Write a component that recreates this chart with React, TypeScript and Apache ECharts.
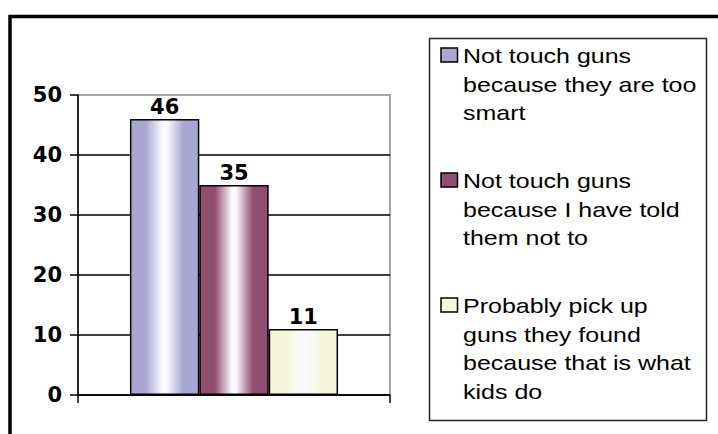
import React, { useEffect, useRef } from "react";
import * as echarts from "echarts";

const categories = [""];
const seriesNames = [
  "Not touch guns\nbecause they are too\nsmart",
  "Not touch guns\nbecause I have told\nthem not to",
  "Probably pick up\nguns they found\nbecause that is what\nkids do",
];
const seriesValues = [46, 35, 11];
const seriesColors = ["#A7A7D1", "#914E70", "#F6F6DA"];
const yTicks = { min: 0, max: 50, interval: 10 };

function barGradient(base: string) {
  return new echarts.graphic.LinearGradient(0, 0, 1, 0, [
    { offset: 0, color: base },
    { offset: 0.22, color: base },
    { offset: 0.47, color: "#FBFBFF" },
    { offset: 0.53, color: "#FBFBFF" },
    { offset: 0.78, color: base },
    { offset: 1, color: base },
  ]);
}

export default function App() {
  const ref = useRef<HTMLDivElement>(null);

  useEffect(() => {
    if (!ref.current) return;
    const chart = echarts.init(ref.current, null, { renderer: "svg" });

    const legendTop0 = 41.75;
    const legendStep = 125;
    const legendGraphics: any[] = [];
    seriesNames.forEach((name, i) => {
      legendGraphics.push({
        type: "rect",
        shape: { x: 441, y: 48 + i * legendStep, width: 16.5, height: 14 },
        style: { fill: seriesColors[i], stroke: "#000", lineWidth: 1.5 },
        z: 10,
      });
      legendGraphics.push({
        type: "text",
        x: 463,
        y: legendTop0 + i * legendStep,
        scaleX: 1.19,
        z: 10,
        style: {
          text: name,
          font: "21px 'Liberation Sans', Arial, sans-serif",
          lineHeight: 28.5,
          fill: "#000",
          verticalAlign: "top",
          align: "left",
        },
      });
    });

    const option: any = {
      animation: false,
      backgroundColor: "#fff",
      grid: {
        left: 78,
        right: 328,
        top: 95,
        bottom: 39,
        show: true,
        borderColor: "#A6A6A6",
        borderWidth: 2,
        backgroundColor: "transparent",
      },
      xAxis: {
        type: "category",
        data: categories,
        axisLine: { show: true, lineStyle: { color: "#000", width: 1.5 } },
        axisTick: { show: true, length: 8, lineStyle: { color: "#000", width: 1.5 } },
        axisLabel: { show: false },
        splitLine: { show: false },
      },
      yAxis: {
        type: "value",
        min: yTicks.min,
        max: yTicks.max,
        interval: yTicks.interval,
        axisLine: { show: true, lineStyle: { color: "#000", width: 1.5 } },
        axisTick: { show: true, length: 8, lineStyle: { color: "#000", width: 1.5 } },
        axisLabel: {
          margin: 16,
          color: "#000",
          fontFamily: "'DejaVu Sans', sans-serif",
          fontWeight: "bold",
          fontSize: 21,
        },
        splitLine: {
          show: true,
          showMaxLine: false,
          lineStyle: { color: "#000", width: 1.5 },
        },
      },
      series: seriesNames.map((name, i) => ({
        type: "bar",
        name,
        data: [seriesValues[i]],
        barGap: "0%",
        barCategoryGap: "33.3%",
        itemStyle: {
          color: barGradient(seriesColors[i]),
          borderColor: "#000",
          borderWidth: 1.5,
        },
        label: {
          show: true,
          position: "top",
          distance: 2,
          color: "#000",
          fontFamily: "'DejaVu Sans', sans-serif",
          fontWeight: "bold",
          fontSize: 21,
        },
      })),
      graphic: [
        {
          type: "rect",
          shape: { x: 10, y: 16.5, width: 800, height: 500 },
          style: { fill: "none", stroke: "#000", lineWidth: 3.5 },
          z: 20,
          silent: true,
        },
        {
          type: "rect",
          shape: { x: 429.5, y: 38.5, width: 277, height: 382 },
          style: { fill: "#fff", stroke: "#222", lineWidth: 1.5 },
          z: 5,
        },
        ...legendGraphics,
      ],
    };
    chart.setOption(option);
    return () => chart.dispose();
  }, []);

  return (
    <div
      ref={ref}
      style={{ position: "fixed", left: 0, top: 0, width: 718, height: 434 }}
    />
  );
}
